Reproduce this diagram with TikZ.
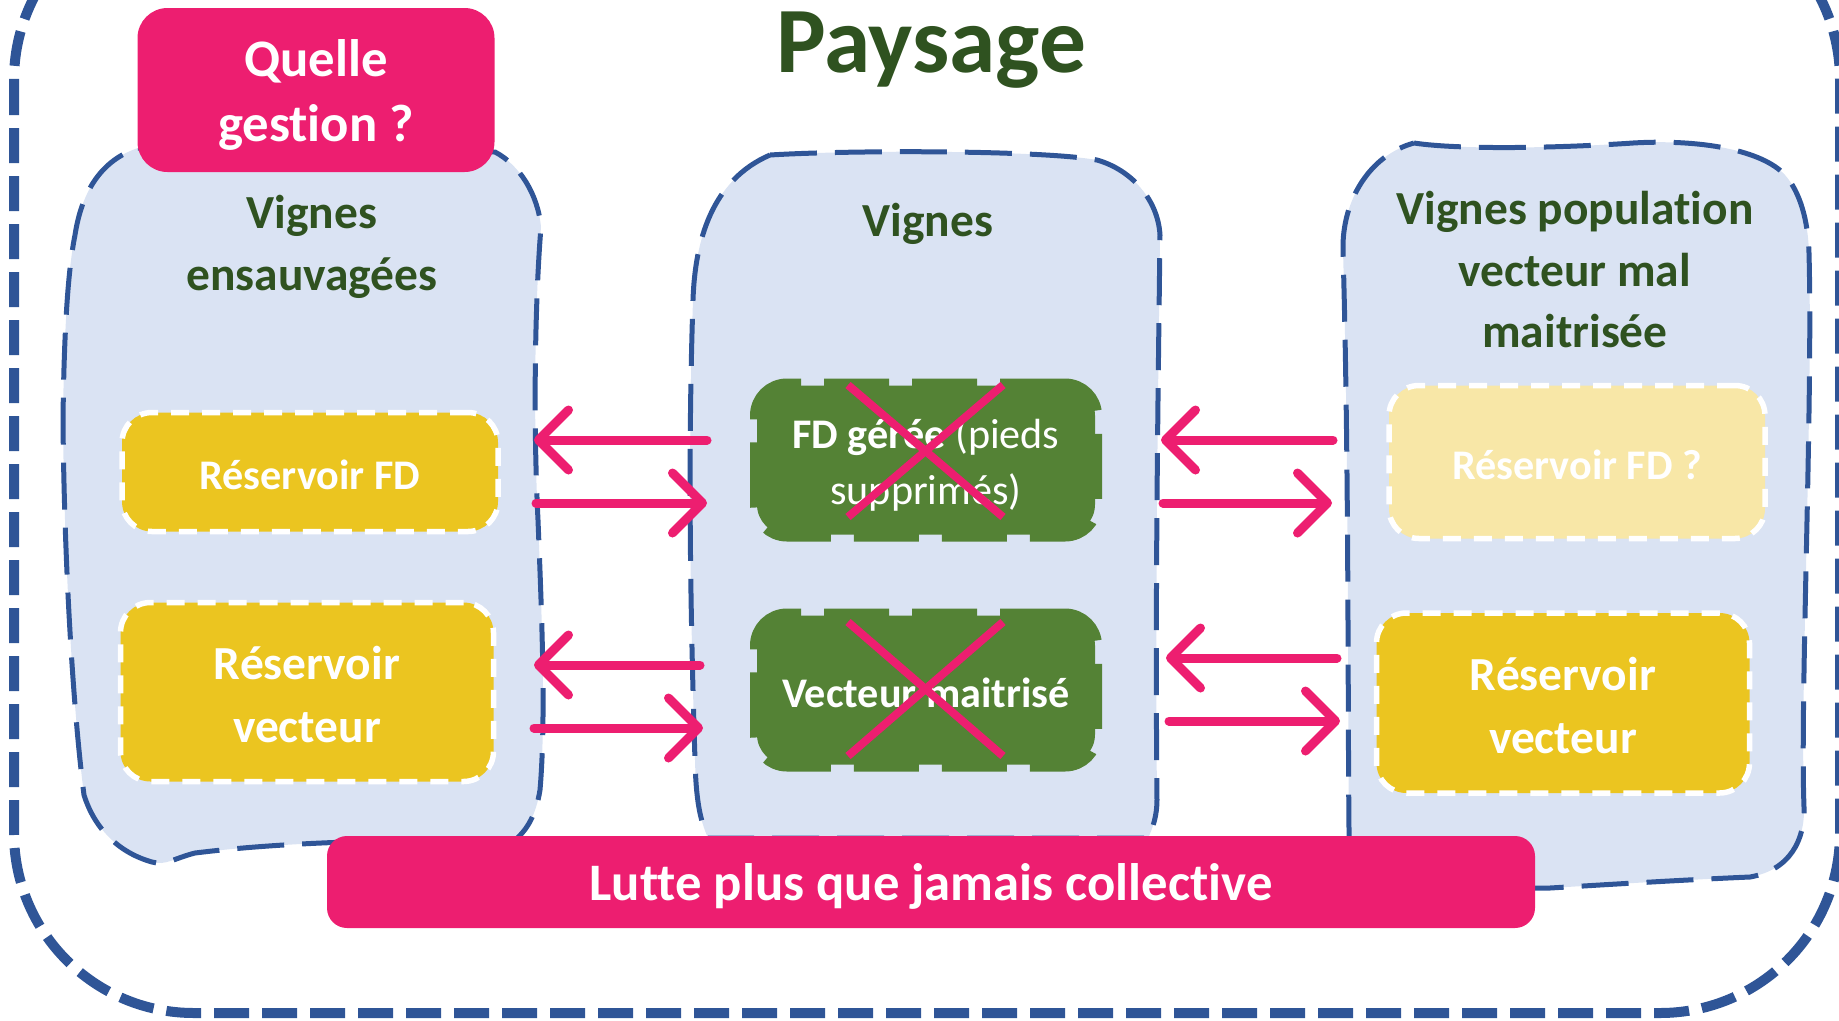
\documentclass[tikz,border=0pt]{standalone}
\usepackage{fontspec}
\setmainfont{Carlito}[Ligatures=NoCommon]
\usetikzlibrary{arrows.meta}

\definecolor{fdpink}{RGB}{237,30,112}
\definecolor{vigne}{RGB}{218,227,243}
\definecolor{trait}{RGB}{47,85,151}
\definecolor{vfonce}{RGB}{47,82,32}
\definecolor{vert}{RGB}{84,130,53}
\definecolor{jaune}{RGB}{235,197,32}
\definecolor{jaunepale}{RGB}{248,231,167}

\newcommand{\bas}[2][1.3pt]{\raisebox{-#1}[\height][\depth]{#2}}

\tikzset{
  cadre/.style={draw=trait, line width=1mm, dash pattern=on 3.5mm off 1.3mm, rounded corners=18mm},
  parcelle/.style={fill=vigne, draw=trait, line width=0.5mm, dash pattern=on 4.7mm off 1.8mm},
  entete/.style={text=vfonce, font=\fontsize{13.5}{17.5}\selectfont\bfseries, align=center, inner sep=0pt},
  reservoir/.style={fill=jaune, draw=white, line width=0.55mm, dash pattern=on 1.8mm off 1.3mm,
    rounded corners=3mm, text=white, font=\fontsize{13.5}{18}\selectfont\bfseries, align=center, inner sep=0pt},
  gere/.style={fill=vert, draw=vert, line width=1.4mm, dash pattern=on 6.5mm off 2.3mm, rounded corners=3mm,
    text=white, font=\fontsize{12}{15.8}\selectfont\bfseries, align=center, inner sep=0pt,
    minimum width=33.8mm, minimum height=14.9mm},
  alerte/.style={fill=fdpink, text=white, font=\fontsize{15}{18.5}\selectfont\bfseries, align=center, inner sep=0pt},
  flux/.style={draw=fdpink, line width=0.9mm, line cap=round, -{Straight Barb[length=3mm, width=6mm, round]}},
  barre/.style={draw=fdpink, line width=0.8mm},
}

\begin{document}
\begin{tikzpicture}[x=0.1mm, y=-0.1mm]
    \useasboundingbox (0,0) rectangle (1839,1020);
    \clip (0,0) rectangle (1839,1020);
    \draw[cadre] (14,-100) rectangle (1840,1013);

    \path[parcelle] (138,148) -- (495,152) .. controls (520,165) and (538,195) .. (541,227)
      .. controls (535,300) and (533,420) .. (538,520) .. controls (542,620) and (546,720) .. (540,790)
      .. controls (536,815) and (527,830) .. (515,840) .. controls (420,840) and (300,840) .. (195,853)
      .. controls (175,858) and (165,866) .. (152,862) .. controls (120,853) and (95,830) .. (84,795)
      .. controls (72,700) and (64,550) .. (63,420) .. controls (64,330) and (68,270) .. (75,235)
      .. controls (82,190) and (102,160) .. (138,148) -- cycle;
    \path[parcelle] (770,155) .. controls (850,150) and (1040,150) .. (1097,160)
      .. controls (1132,170) and (1158,200) .. (1160,235) .. controls (1158,400) and (1155,600) .. (1157,800)
      .. controls (1157,815) and (1153,828) .. (1148,838) -- (708,838)
      .. controls (700,820) and (696,800) .. (695,760) .. controls (690,600) and (688,450) .. (693,300)
      .. controls (695,240) and (712,180) .. (770,155) -- cycle;
    \path[parcelle] (1414,143) .. controls (1460,150) and (1560,148) .. (1633,143)
      .. controls (1700,139) and (1762,150) .. (1785,175) .. controls (1800,192) and (1808,220) .. (1809,253)
      .. controls (1813,400) and (1800,700) .. (1804,807) .. controls (1805,840) and (1790,870) .. (1750,877)
      .. controls (1680,880) and (1600,885) .. (1550,888) -- (1350,888)
      .. controls (1347,780) and (1350,500) .. (1343,250)
      .. controls (1342,200) and (1370,155) .. (1414,143) -- cycle;

    \node[text=vfonce, font=\fontsize{26.6}{31}\selectfont\bfseries, inner sep=0pt] (paysage) at (931,50) {Paysage};
    \node[alerte, rounded corners=3mm, minimum width=35.7mm, minimum height=16.4mm] (gestion) at (316,90) {\bas{Quelle}\\\bas{gestion ?}};
    \node[entete] (ensauv) at (312,247) {Vignes\\ensauvagées};
    \node[entete] (vignes) at (928,224) {Vignes};
    \node[entete] (malmait) at (1575,270) {Vignes population\\vecteur mal\\maitrisée};

    \node[reservoir, font=\fontsize{12}{15}\selectfont\bfseries, minimum width=37.6mm, minimum height=11.9mm] (resfdL) at (310,472) {\bas[0.7pt]{Réservoir FD}};
    \node[reservoir, minimum width=37.3mm, minimum height=17.9mm] (resvecL) at (307,692) {\bas[0.8pt]{Réservoir}\\\bas[0.8pt]{vecteur}};
    \node[reservoir, fill=jaunepale, font=\fontsize{12}{15}\selectfont\bfseries, minimum width=37.6mm, minimum height=15.3mm] (resfdR) at (1577,462) {\bas[0.7pt]{Réservoir FD ?}};
    \node[reservoir, minimum width=37.3mm, minimum height=18mm] (resvecR) at (1563,703) {\bas[0.8pt]{Réservoir}\\\bas[0.8pt]{vecteur}};

    \node[gere, font=\fontsize{12}{15.8}\selectfont] (fdgere) at (926,460) {\bas[1.2pt]{\textbf{FD gérée} (pieds}\\\bas[1.2pt]{supprimés)}};
    \node[gere] (vecmait) at (926,690) {\bas[0.7pt]{Vecteur maitrisé}};

    \draw[barre] (848,385) -- (1003,517) (1003,385) -- (848,517);
    \draw[barre] (848,622) -- (1003,756) (1003,622) -- (848,756);

    \coordinate (ga1) at (534,440);  \coordinate (gb1) at (707,440);
    \coordinate (ga2) at (536,503);  \coordinate (gb2) at (707,503);
    \coordinate (ga3) at (534,665);  \coordinate (gb3) at (700,665);
    \coordinate (ga4) at (534,728);  \coordinate (gb4) at (703,728);
    \coordinate (da1) at (1161,440); \coordinate (db1) at (1333,440);
    \coordinate (da2) at (1163,503); \coordinate (db2) at (1332,503);
    \coordinate (da3) at (1166,658); \coordinate (db3) at (1337,658);
    \coordinate (da4) at (1169,721); \coordinate (db4) at (1340,721);
    \draw[flux] (gb1) -- (ga1);
    \draw[flux] (ga2) -- (gb2);
    \draw[flux] (gb3) -- (ga3);
    \draw[flux] (ga4) -- (gb4);
    \draw[flux] (db1) -- (da1);
    \draw[flux] (da2) -- (db2);
    \draw[flux] (db3) -- (da3);
    \draw[flux] (da4) -- (db4);

    \node[alerte, rounded corners=2mm, minimum width=120.8mm, minimum height=9.2mm] (lutte) at (931,882) {\bas{Lutte plus que jamais collective}};
\end{tikzpicture}
\end{document}
